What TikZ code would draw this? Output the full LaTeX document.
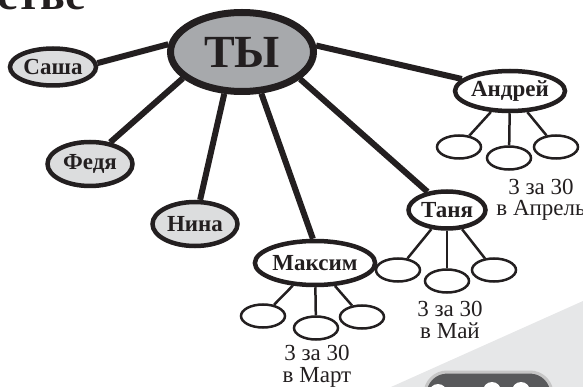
\documentclass[tikz,border=0pt]{standalone}
\usepackage{fontspec}
\setmainfont{Liberation Serif}
\usetikzlibrary{shapes.geometric}
\definecolor{ink}{HTML}{231F20}
\definecolor{tygray}{HTML}{A7A9AC}
\definecolor{pal}{HTML}{DCDDDE}
\definecolor{bggray}{HTML}{E6E7E8}
\definecolor{btn}{HTML}{58595B}

\begin{document}
\begin{tikzpicture}[x=1pt,y=-1pt,
     me/.style = {draw=ink, ellipse, line width=7pt, fill=tygray, inner sep=0pt,
      minimum width=143pt, minimum height=79pt, text=ink,
      font=\bfseries\fontsize{46}{46}\selectfont},
     friend/.style = {draw=ink, ellipse, line width=4.5pt, fill=pal, inner sep=0pt,
      minimum width=86pt, minimum height=44pt, text=ink,
      font=\bfseries\fontsize{23}{23}\selectfont},
     leader/.style = {friend, fill=white},
     slot/.style = {draw=ink, ellipse, line width=2.5pt, fill=white,
      minimum width=44pt, minimum height=23pt},
     note/.style = {align=center, inner sep=0pt, text=ink},
     link/.style = {draw=ink, line width=6pt},
     twig/.style = {draw=ink, line width=2.5pt}
    ]
    \useasboundingbox (0,0) rectangle (583,387);
    \clip (0,0) rectangle (583,387);

    \fill[bggray] (391,387) -- (583,301) -- (583,387) -- cycle;
    \draw[line width=3pt, draw=gray!45, fill=btn, rounded corners=22pt] (425,372) rectangle (552,440);
    \fill[white] (438,393) circle (9) (492,391) circle (9) (521,391) circle (9);

    \node [anchor=base west, inner sep=0pt, text=ink,
      font=\bfseries\fontsize{46}{46}\selectfont] (title) at (-3,10) {стве};

    \node [me] (ty) at (242,52) {ТЫ};
    \node [friend, minimum height=37pt] (sasha) at (53,67) {Саша};
    \node [friend, minimum width=85pt] (fedya) at (90,164) {Федя};
    \node [friend, minimum width=85pt] (nina) at (195,224) {Нина};
    \node [leader] (maksim) at (315,263) {Максим};
    \node [leader, minimum width=77pt, minimum height=37pt] (tanya) at (447,210) {Таня};
    \node [leader, minimum width=80pt, minimum height=40pt] (andrey) at (510,91) {Андрей};

    \draw[link] (sasha.5) -- (ty.174);
    \draw[link] (fedya.47) -- (ty.204);
    \draw[link] (nina.78) -- (ty.247);
    \draw[link] (maksim.95) -- (ty.295);
    \draw[link] (tanya.137) -- (ty.335);
    \draw[link] (andrey.166) -- (ty.5);

    \node [slot] (m1) at (263,316) {};
    \node [slot] (m2) at (316,328) {};
    \node [slot] (m3) at (362,317) {};
    \node [slot] (t1) at (398,270) {};
    \node [slot] (t2) at (447,281) {};
    \node [slot] (t3) at (494,270) {};
    \node [slot] (a1) at (459,147) {};
    \node [slot] (a2) at (509,158) {};
    \node [slot] (a3) at (556,147) {};

    \draw[twig] (maksim) -- (m1);
    \draw[twig] (maksim) -- (m2);
    \draw[twig] (maksim) -- (m3);
    \draw[twig] (tanya) -- (t1);
    \draw[twig] (tanya) -- (t2);
    \draw[twig] (tanya) -- (t3);
    \draw[twig] (andrey) -- (a1);
    \draw[twig] (andrey) -- (a2);
    \draw[twig] (andrey) -- (a3);

    \node [note, font=\fontsize{23}{22}\selectfont] (mnote) at (317,366) {3 за 30\\в Март};
    \node [note, font=\fontsize{23}{22}\selectfont] (tnote) at (450,320) {3 за 30\\в Май};
    \node [note, font=\fontsize{23}{21}\selectfont] (anote) at (541,200) {3 за 30\\в Апрель};
\end{tikzpicture}
\end{document}
